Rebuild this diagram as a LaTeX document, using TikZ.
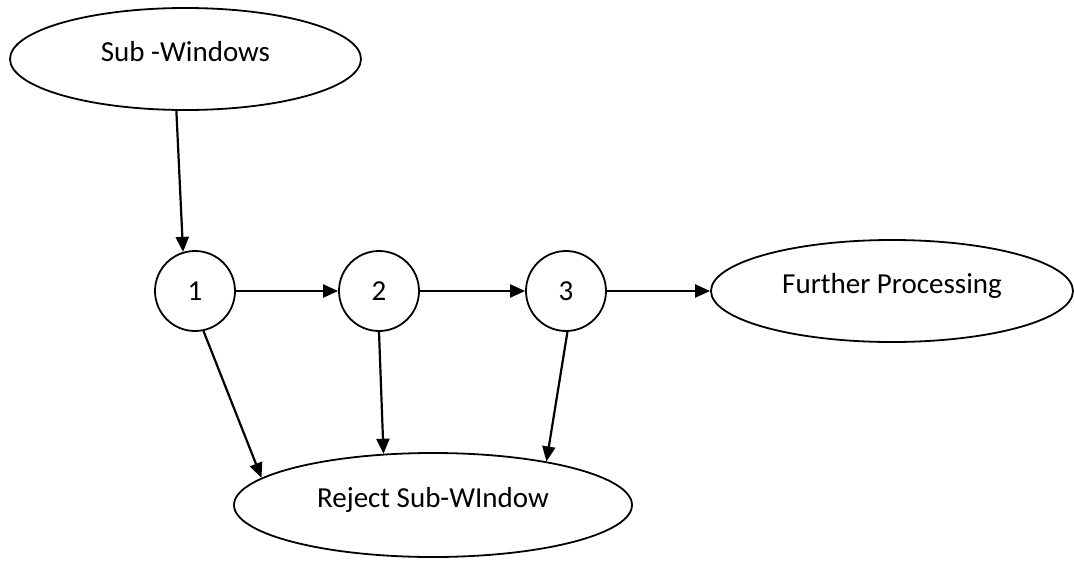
\documentclass[tikz,border=0pt]{standalone}
\usepackage{fontspec}
\setmainfont{Carlito}
\usetikzlibrary{shapes.geometric,arrows.meta}
\begin{document}
\begin{tikzpicture}[x=1pt,y=-1pt,
  oval/.style={ellipse,draw,line width=1.8pt,inner sep=0pt,font=\fontsize{29}{32}\selectfont,text height=20pt,text depth=15pt},
  stage/.style={circle,draw,line width=1.8pt,inner sep=0pt,minimum size=80pt,font=\fontsize{29}{32}\selectfont,text height=20pt,text depth=1.5pt},
  flow/.style={line width=2.2pt,-{Triangle[length=15pt,width=13pt]}}]
\useasboundingbox (0,0) rectangle (1074,560);
\node[oval,minimum width=351pt,minimum height=102pt] (sw) at (185.5,59) {Sub -Windows};
\node[stage] (c1) at (195,291) {1};
\node[stage] (c2) at (379,291) {2};
\node[stage] (c3) at (566,291) {3};
\node[oval,minimum width=362pt,minimum height=102pt] (fp) at (892,291) {Further Processing};
\node[oval,minimum width=398pt,minimum height=104pt] (rj) at (433,505) {Reject Sub-WIndow};
\draw[flow] (sw.260.5) -- (c1.107);
\draw[flow] (c1.east) -- (c2.west);
\draw[flow] (c2.east) -- (c3.west);
\draw[flow] (c3.east) -- (fp.west);
\draw[flow] (c1.282) -- (rj.171);
\draw[flow] (c2.270) -- (rj.134.4);
\draw[flow] (c3.272) -- (rj.21.4);
\end{tikzpicture}
\end{document}
